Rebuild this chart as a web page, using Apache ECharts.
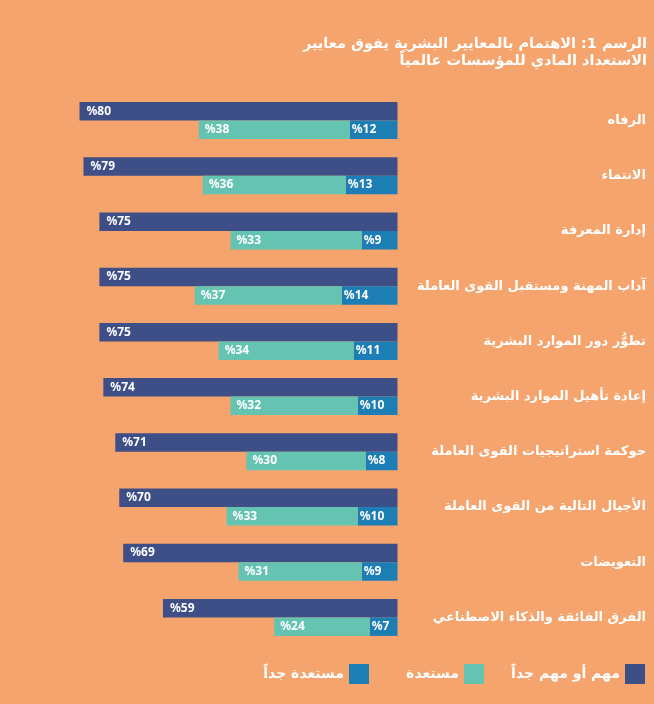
<!DOCTYPE html>
<html>
<head>
<meta charset="utf-8">
<script src="https://cdn.jsdelivr.net/npm/echarts@6/dist/echarts.min.js"></script>
<style>
html,body{margin:0;padding:0;background:#F4A46C;}
#chart{width:654px;height:704px;}
</style>
</head>
<body>
<div id="chart"></div>
<script>
// 数据
var categories = ['الرفاه','الانتماء','إدارة المعرفة','آداب المهنة ومستقبل القوى العاملة','تطوُّر دور الموارد البشرية','إعادة تأهيل الموارد البشرية','حوكمة استراتيجيات القوى العاملة','الأجيال التالية من القوى العاملة','التعويضات','الفرق الفائقة والذكاء الاصطناعي'];
var important = [80,79,75,75,75,74,71,70,69,59];
var ready = [38,36,33,37,34,32,30,33,31,24];
var veryReady = [12,13,9,14,11,10,8,10,9,7];
var seriesNames = ['مهم أو مهم جداً','مستعدة','مستعدة جداً'];
var titleLines = ['الرسم 1: الاهتمام بالمعايير البشرية يفوق معايير','الاستعداد المادي للمؤسسات عالمياً'];

var arFont = 'DejaVu Sans';
var colors = ['#3E4E86','#65C3B2','#1D7DB5'];

function labelInfo(dist){
	return {
		show:true,
		position:'insideLeft',
		distance:dist,
		color:'#fff',
		fontWeight:'bold',
		fontSize:12,
		fontFamily:'Noto Sans',
		formatter:function(p){return '%'+p.value;}
	};
}
function legendItem(name,right){
	return {
		data:[name],
		right:right,
		top:659,
		align:'right',
		icon:'rect',
		itemWidth:20,
		itemHeight:20,
		itemGap:0,
		selectedMode:false,
		textStyle:{color:'#fff',fontSize:14,fontWeight:'bold',fontFamily:arFont}
	};
}
function titleLine(text,top){
	return {
		text:text,
		right:2,
		top:top,
		textStyle:{color:'#fff',fontSize:14.5,fontWeight:'bold',fontFamily:arFont}
	};
}

var myChart = echarts.init(document.getElementById('chart'));
var option = {
	backgroundColor:'#F4A46C',
	animation:false,
	title:[
		titleLine(titleLines[0],32),
		titleLine(titleLines[1],49)
	],
	legend:[
		legendItem(seriesNames[0],4),
		legendItem(seriesNames[1],165),
		legendItem(seriesNames[2],280)
	],
	grid:{left:0,right:256.5,top:93,bottom:59,containLabel:false},
	xAxis:{
		type:'value',
		inverse:true,
		min:0,
		max:100,
		show:false
	},
	yAxis:{
		type:'category',
		inverse:true,
		position:'right',
		data:categories,
		axisLine:{show:false},
		axisTick:{show:false},
		axisLabel:{
			color:'#fff',
			fontSize:13,
			fontWeight:'bold',
			fontFamily:arFont,
			align:'right',
			margin:248.5
		}
	},
	series:[
		{
			name:seriesNames[0],
			type:'bar',
			barWidth:18.5,
			barGap:'0%',
			itemStyle:{color:colors[0]},
			label:labelInfo(7),
			data:important
		},
		{
			name:seriesNames[2],
			type:'bar',
			stack:'ready',
			barWidth:18.5,
			barGap:'0%',
			itemStyle:{color:colors[2]},
			label:labelInfo(2),
			data:veryReady
		},
		{
			name:seriesNames[1],
			type:'bar',
			stack:'ready',
			barWidth:18.5,
			barGap:'0%',
			itemStyle:{color:colors[1]},
			label:labelInfo(6),
			data:ready
		}
	]
};
myChart.setOption(option);
</script>
</body>
</html>
